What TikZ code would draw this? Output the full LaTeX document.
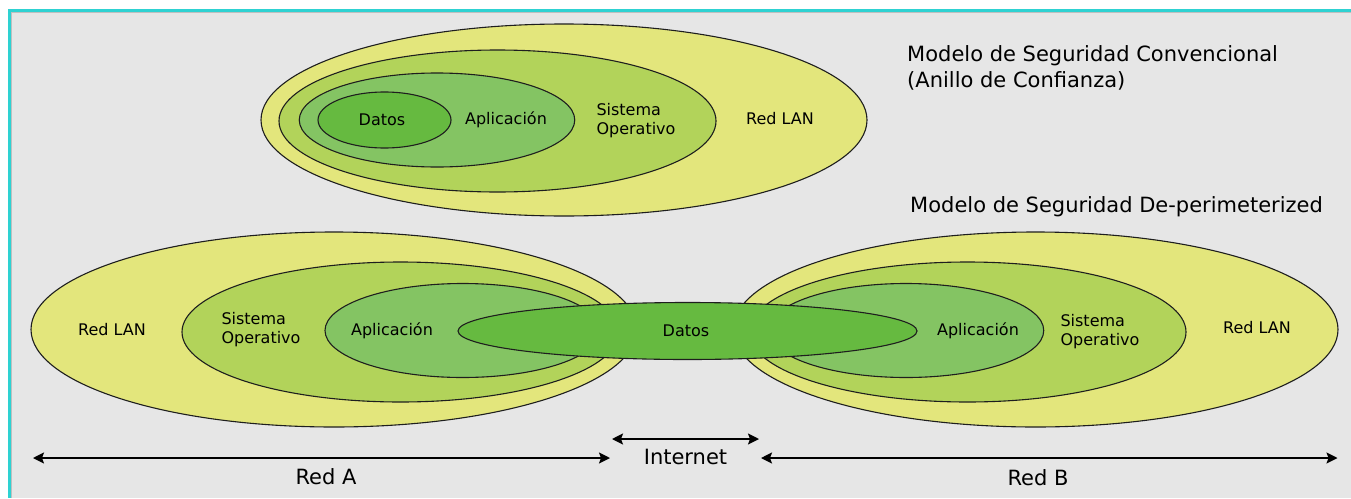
\documentclass[tikz,border=0pt]{standalone}
\usepackage{fontspec}
\setmainfont{DejaVu Sans}
\usetikzlibrary{arrows.meta}
\definecolor{bgGray}{HTML}{E6E6E6}
\definecolor{cyanB}{HTML}{2ED2D2}
\definecolor{lanY}{HTML}{E3E67C}
\definecolor{osG}{HTML}{B2D35A}
\definecolor{apG}{HTML}{84C463}
\definecolor{daG}{HTML}{66BA40}
\definecolor{edge}{HTML}{1E1E1E}
\begin{document}
\begin{tikzpicture}[x=1pt,y=-1pt,
  ring/.style={draw=edge, line width=1.1pt},
  lan/.style={ring, fill=lanY},
  os/.style={ring, fill=osG},
  app/.style={ring, fill=apG},
  dat/.style={ring, fill=daG},
  lbl/.style={font=\fontsize{16}{19}\selectfont, inner sep=0pt, text=black},
  big/.style={font=\fontsize{21}{25.5}\selectfont, inner sep=0pt, text=black},
  span/.style={{Stealth[length=11pt,width=11pt,inset=2pt]}-{Stealth[length=11pt,width=11pt,inset=2pt]}, line width=1.7pt, draw=black}
]
\useasboundingbox (0,0) rectangle (1351,498);
\fill[white] (0,0) rectangle (1351,498);
\fill[bgGray] (8,9) rectangle (1351,498);
\fill[cyanB] (8,9) rectangle (1351,11.7);
\fill[cyanB] (8,9) rectangle (11,498);
\draw[black!25, line width=0.8pt] (11.6,498) -- (11.6,12.3) -- (1351,12.3);

% ---- top model
\draw[lan] (564,120) ellipse [x radius=303pt, y radius=96pt];
\draw[os]  (497.5,121) ellipse [x radius=218.5pt, y radius=71pt];
\draw[app] (437,120) ellipse [x radius=137.75pt, y radius=47pt];
\draw[dat] (384.5,120) ellipse [x radius=66.5pt, y radius=28pt];

\node[lbl] (tD) at (382,120) {Datos};
\node[lbl] (tA) at (506,120) {Aplicación};
\node[lbl, align=left] (tS) at (636,121) {Sistema\\Operativo};
\node[lbl] (tL) at (780,119) {Red LAN};

\node[big, anchor=north west, align=left] (t1) at (907,45.5) {Modelo de Seguridad Convencional\\(Anillo de Confianza)};
\node[big, anchor=base west] (t2) at (910,212) {Modelo de Seguridad De-perimeterized};

% ---- bottom model, left
\draw[lan] (334,329.5) ellipse [x radius=303pt, y radius=97.5pt];
\draw[os]  (400.5,332) ellipse [x radius=218.5pt, y radius=70pt];
\draw[app] (462.75,330.5) ellipse [x radius=137.75pt, y radius=47pt];
% ---- bottom model, right
\draw[lan] (1035.5,329.5) ellipse [x radius=302.5pt, y radius=97.5pt];
\draw[os]  (967.5,332) ellipse [x radius=218.5pt, y radius=70pt];
\draw[app] (906,330.5) ellipse [x radius=137.75pt, y radius=47pt];
% ---- shared data
\draw[dat] (687.5,331) ellipse [x radius=229.5pt, y radius=28.5pt];

\node[lbl] (lL) at (112,330) {Red LAN};
\node[lbl, align=left] (lS) at (261,330) {Sistema\\Operativo};
\node[lbl] (lA) at (392,331) {Aplicación};
\node[lbl] (dD) at (686,331) {Datos};
\node[lbl] (rA) at (978,331) {Aplicación};
\node[lbl, align=left] (rS) at (1100,332) {Sistema\\Operativo};
\node[lbl] (rL) at (1257,328) {Red LAN};

% ---- spans
\coordinate (a1) at (33,458);
\coordinate (a2) at (610,458);
\coordinate (i1) at (612,439);
\coordinate (i2) at (759,439);
\coordinate (b1) at (761,458);
\coordinate (b2) at (1337.5,458);
\draw[span] (a1) -- (a2);
\draw[span] (i1) -- (i2);
\draw[span] (b1) -- (b2);
\node[big] (nA) at (326,477) {Red A};
\node[big] (nI) at (685.5,456.5) {Internet};
\node[big] (nB) at (1038,478) {Red B};
\end{tikzpicture}
\end{document}
